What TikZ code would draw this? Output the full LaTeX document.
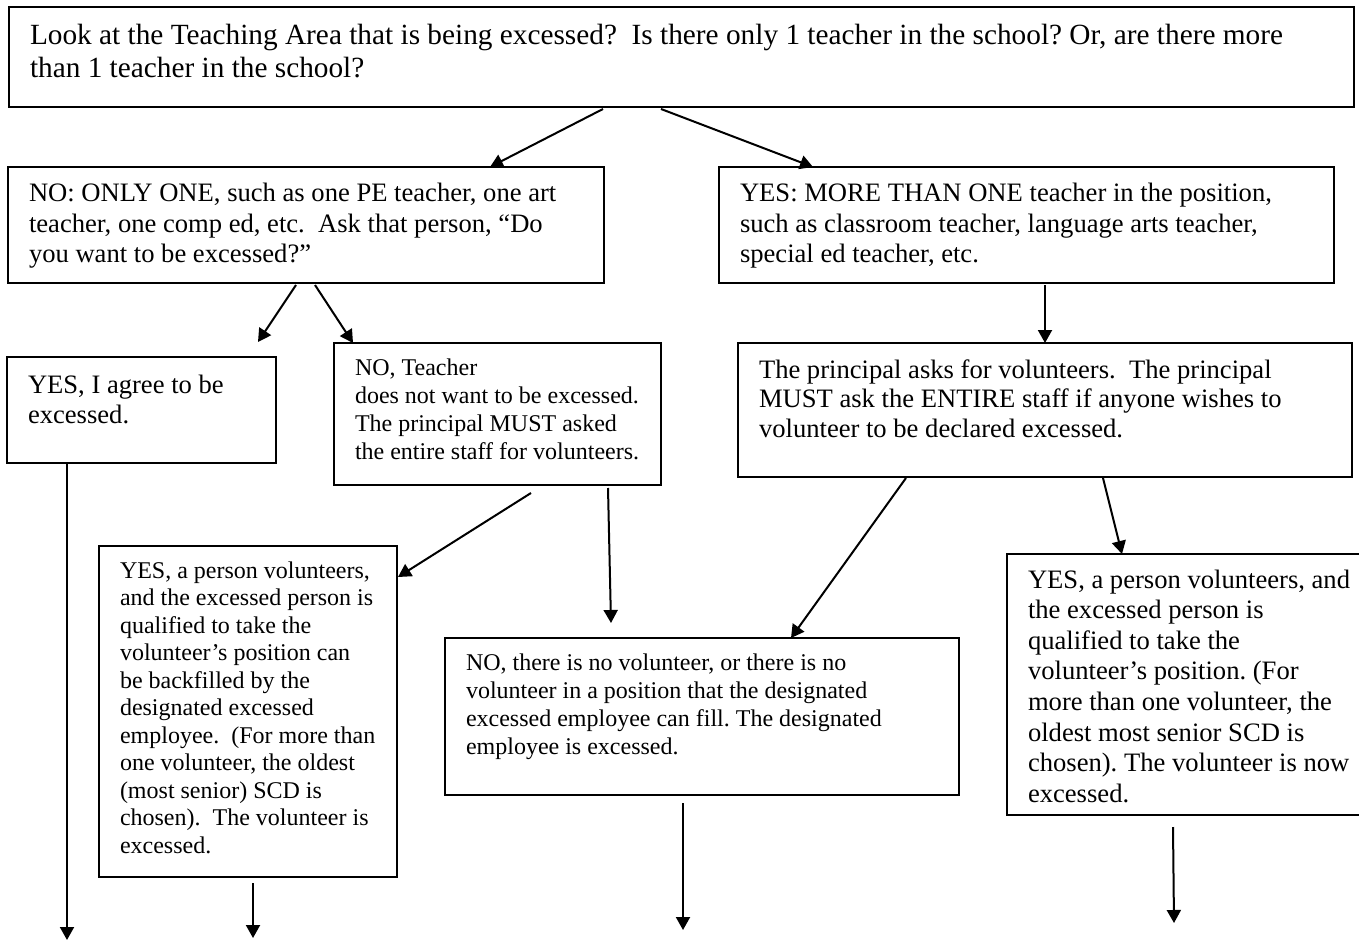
\documentclass[tikz,border=0pt]{standalone}
\usepackage{fontspec}
\setmainfont{Liberation Serif}
\usetikzlibrary{arrows.meta,calc}

% box text: width, height, first baseline, font size, line skip, lines
\newcommand{\boxtext}[6]{%
  \begin{minipage}[t][#2][t]{#1}%
    \fontsize{#4}{#5}\selectfont\frenchspacing
    \leftskip=10.5pt\rightskip=0pt plus 1fil\parfillskip=0pt plus 1fil
    \noindent\rule{0pt}{#3}#6\par
  \end{minipage}}

\tikzset{
  flowbox/.style={draw, line width=0.9pt, anchor=north west, inner sep=0pt, outer sep=0pt},
  flowarrow/.style={line width=1pt, -{Triangle[length=6.5pt,width=7pt]}},
}

\begin{document}
\begin{tikzpicture}[x=0.5pt,y=-0.5pt]
    \fill[white] (0,0) rectangle (1359,941);
    \useasboundingbox (0,0) rectangle (1359,941);

    % question
    \node[flowbox] (look) at (9,7) {\boxtext{672.5pt}{50pt}{19pt}{14.65pt}{16.5pt}{%
        Look at the Teaching Area that is being excessed?\ \ Is there only 1 teacher in the school? Or, are there more\\
        than 1 teacher in the school?}};

    % first answers
    \node[flowbox] (onlyone) at (8,167) {\boxtext{298pt}{58pt}{17.5pt}{13.3pt}{15.25pt}{%
        NO: ONLY ONE, such as one PE teacher, one art\\
        teacher, one comp ed, etc.\ \ Ask that person, “Do\\
        you want to be excessed?”}};
    \node[flowbox] (morethan) at (719,167) {\boxtext{307.5pt}{58pt}{17.5pt}{13.3pt}{15.25pt}{%
        YES: MORE THAN ONE teacher in the position,\\
        such as classroom teacher, language arts teacher,\\
        special ed teacher, etc.}};

    % second row
    \node[flowbox] (agree) at (7,357) {\boxtext{134.5pt}{53pt}{18pt}{13.3pt}{15pt}{%
        YES, I agree to be\\
        excessed.}};
    \node[flowbox] (refuse) at (334,343) {\boxtext{163.5pt}{71pt}{16pt}{12pt}{14pt}{%
        NO, Teacher\\
        does not want to be excessed.\\
        The principal MUST asked\\
        the entire staff for volunteers.}};
    \node[flowbox] (principal) at (738,343) {\boxtext{307pt}{67pt}{17.5pt}{13.3pt}{14.75pt}{%
        The principal asks for volunteers.\ \ The principal\\
        MUST ask the ENTIRE staff if anyone wishes to\\
        volunteer to be declared excessed.}};

    % outcomes
    \node[flowbox] (volleft) at (99,546) {\boxtext{149pt}{165.5pt}{16pt}{12pt}{13.75pt}{%
        YES, a person volunteers,\\
        and the excessed person is\\
        qualified to take the\\
        volunteer’s position can\\
        be backfilled by the\\
        designated excessed\\
        employee.\ \ (For more than\\
        one volunteer, the oldest\\
        (most senior) SCD is\\
        chosen).\ \ The volunteer is\\
        excessed.}};
    \node[flowbox] (novol) at (445,638) {\boxtext{257pt}{78.5pt}{16pt}{12pt}{14pt}{%
        NO, there is no volunteer, or there is no\\
        volunteer in a position that the designated\\
        excessed employee can fill. The designated\\
        employee is excessed.}};
    \node[flowbox] (volright) at (1007,554) {\boxtext{181.5pt}{130.5pt}{17pt}{13.3pt}{15.3pt}{%
        YES, a person volunteers, and\\
        the excessed person is\\
        qualified to take the\\
        volunteer’s position. (For\\
        more than one volunteer, the\\
        oldest most senior SCD is\\
        chosen). The volunteer is now\\
        excessed.}};

    % loose ends at the bottom
    \coordinate (agreeout) at (67,940);
    \coordinate (volleftout) at (253,938);
    \coordinate (novolout) at (683,930);
    \coordinate (volrightout) at (1174,923);

    % arrows
    \draw[flowarrow] ($(look.south west)+(594,2)$) -- ($(onlyone.north west)+(482,0)$);
    \draw[flowarrow] ($(look.south west)+(652,2)$) -- ($(morethan.north west)+(94,0)$);
    \draw[flowarrow] ($(onlyone.south west)+(288,2)$) -- ($(agree.north west)+(251,-15)$);
    \draw[flowarrow] ($(onlyone.south west)+(307,2)$) -- ($(refuse.north west)+(19,0)$);
    \draw[flowarrow] ($(morethan.south west)+(326,2)$) -- ($(principal.north west)+(307,0)$);
    \draw[flowarrow] ($(agree.south west)+(60,1)$) -- (agreeout);
    \draw[flowarrow] ($(refuse.south west)+(197,8)$) -- ($(volleft.north east)+(1,31)$);
    \draw[flowarrow] ($(refuse.south west)+(274,3)$) -- ($(novol.north west)+(166,-15)$);
    \draw[flowarrow] ($(principal.south west)+(168,1)$) -- ($(novol.north west)+(346,0)$);
    \draw[flowarrow] ($(principal.south west)+(365,1)$) -- ($(volright.north west)+(115,0)$);
    \draw[flowarrow] ($(volleft.south west)+(154,6)$) -- (volleftout);
    \draw[flowarrow] ($(novol.south west)+(238,8)$) -- (novolout);
    \draw[flowarrow] ($(volright.south west)+(166,12)$) -- (volrightout);
\end{tikzpicture}
\end{document}
